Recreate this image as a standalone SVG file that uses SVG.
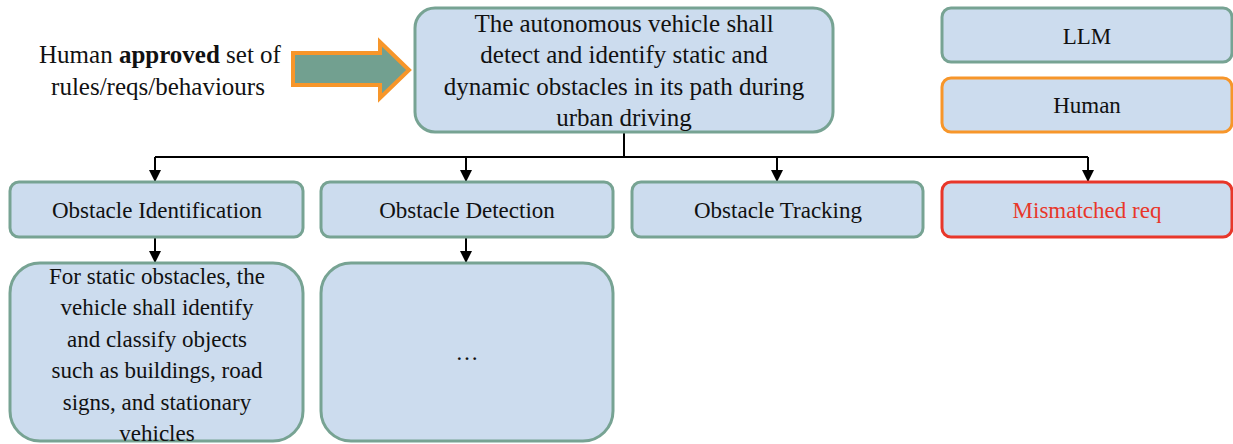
<svg xmlns="http://www.w3.org/2000/svg" width="1233" height="444" viewBox="0 0 1233 444" font-family="'Liberation Serif', 'Times New Roman', Tinos, serif">
<defs>
<marker id="ah" viewBox="0 0 10 10" refX="10" refY="5" markerWidth="14" markerHeight="12" markerUnits="userSpaceOnUse" orient="auto">
<path d="M0,0 L10,5 L0,10 Z" fill="#000"/>
</marker>
</defs>
<g id="input-label" font-size="25" fill="#111" text-anchor="middle">
<text x="160" y="63">Human <tspan font-weight="bold">approved</tspan> set of</text>
<text x="158" y="95">rules/reqs/behaviours</text>
</g>
<g id="input-arrow">
<path d="M293,53 L380,53 L380,42 L409,70 L380,98 L380,85 L293,85 Z" fill="#72a090" stroke="#f7962a" stroke-width="4"/>
</g>
<g id="connectors" fill="none" stroke="#000" stroke-width="2">
<path d="M624,132 V157 M155,157 H1088"/>
<path d="M155,157 V182" marker-end="url(#ah)"/>
<path d="M466,157 V182" marker-end="url(#ah)"/>
<path d="M777,157 V182" marker-end="url(#ah)"/>
<path d="M1088,157 V182" marker-end="url(#ah)"/>
<path d="M155,238 V263" marker-end="url(#ah)"/>
<path d="M466,238 V263" marker-end="url(#ah)"/>
</g>
<g id="root" font-size="25" fill="#111" text-anchor="middle">
<rect x="415" y="8" width="418" height="124" rx="20" fill="#ccdcee" stroke="#77a393" stroke-width="3"/>
<text x="624" y="32">The autonomous vehicle shall</text>
<text x="624" y="63">detect and identify static and</text>
<text x="624" y="95">dynamic obstacles in its path during</text>
<text x="624" y="126">urban driving</text>
</g>
<g id="legend-llm" font-size="23" fill="#111" text-anchor="middle">
<rect x="942" y="8" width="290" height="54" rx="9" fill="#ccdcee" stroke="#77a393" stroke-width="3"/>
<text x="1087" y="44">LLM</text>
</g>
<g id="legend-human" font-size="23" fill="#111" text-anchor="middle">
<rect x="942" y="78" width="290" height="54" rx="9" fill="#ccdcee" stroke="#f7962a" stroke-width="3"/>
<text x="1087" y="113">Human</text>
</g>
<g id="obstacle-identification" font-size="23" fill="#111" text-anchor="middle">
<rect x="10" y="182" width="293" height="55" rx="9" fill="#ccdcee" stroke="#77a393" stroke-width="3"/>
<text x="157" y="218">Obstacle Identification</text>
</g>
<g id="obstacle-detection" font-size="23" fill="#111" text-anchor="middle">
<rect x="321" y="182" width="292" height="55" rx="9" fill="#ccdcee" stroke="#77a393" stroke-width="3"/>
<text x="467" y="218">Obstacle Detection</text>
</g>
<g id="obstacle-tracking" font-size="23" fill="#111" text-anchor="middle">
<rect x="632" y="182" width="291" height="55" rx="9" fill="#ccdcee" stroke="#77a393" stroke-width="3"/>
<text x="778" y="218">Obstacle Tracking</text>
</g>
<g id="mismatched-req" font-size="23" fill="#e8372a" text-anchor="middle">
<rect x="942" y="182" width="290" height="55" rx="9" fill="#ccdcee" stroke="#e8372a" stroke-width="3"/>
<text x="1087" y="218">Mismatched req</text>
</g>
<g id="static-obstacles" font-size="23" fill="#111" text-anchor="middle">
<rect x="10" y="263" width="293" height="178" rx="30" fill="#ccdcee" stroke="#77a393" stroke-width="3"/>
<text x="157" y="284">For static obstacles, the</text>
<text x="157" y="315">vehicle shall identify</text>
<text x="157" y="347">and classify objects</text>
<text x="157" y="378">such as buildings, road</text>
<text x="157" y="410">signs, and stationary</text>
<text x="157" y="441">vehicles</text>
</g>
<g id="detection-detail" font-size="23" fill="#111" text-anchor="middle">
<rect x="321" y="263" width="292" height="178" rx="30" fill="#ccdcee" stroke="#77a393" stroke-width="3"/>
<text x="467" y="360">…</text>
</g>
</svg>
